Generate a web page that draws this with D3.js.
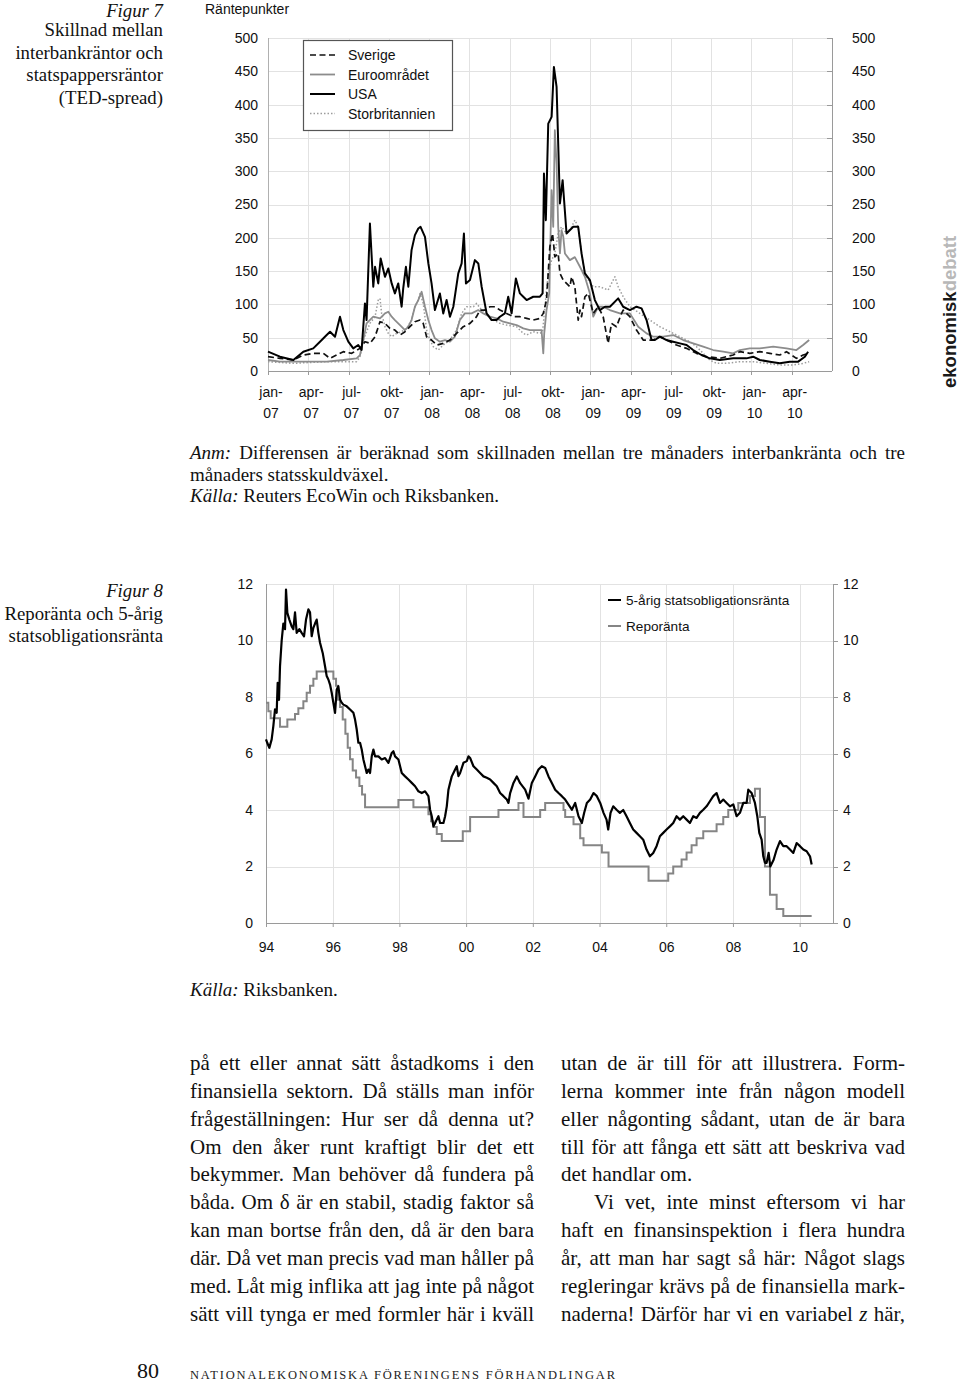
<!DOCTYPE html>
<html lang="sv">
<head>
<meta charset="utf-8">
<title>Figur 7 och 8</title>
<script src="https://cdn.jsdelivr.net/npm/d3@7/dist/d3.min.js"></script>
<style>
    body { margin: 0; background: #fff; }
    svg { display: block; }
</style>
</head>
<body>
<script>
// ---- Figur 7: TED-spread, [månader från jan-07, räntepunkter]
const tedTickMonths = [0, 3, 6, 9, 12, 15, 18, 21, 24, 27, 30, 33, 36, 39];
const tedTickLabels = ['jan-07', 'apr-07', 'jul-07', 'okt-07', 'jan-08', 'apr-08', 'jul-08',
    'okt-08', 'jan-09', 'apr-09', 'jul-09', 'okt-09', 'jan-10', 'apr-10'];
const tedValueTicks = [0, 50, 100, 150, 200, 250, 300, 350, 400, 450, 500];

const sverige = [[0,21.5],[0.89,19],[1.89,16.5],[2.63,24],[3.37,26.5],[4.12,26.5],[4.62,19],[5.11,24],
    [5.61,29],[6.23,26.5],[6.85,34],[7.22,44],[7.59,41.5],[7.97,51.5],[8.34,74],[8.71,71.5],[9.08,64],
    [9.45,61.5],[9.83,54],[10.2,59],[10.57,66.5],[10.94,74],[11.32,76.5],[11.56,71.5],[11.81,51.5],
    [12.18,46.5],[12.56,39],[13.05,41.5],[13.55,46.5],[14.04,56.5],[14.54,66.5],[15.04,71.5],[15.53,81.5],
    [15.78,91.5],[16.15,91.5],[16.53,96.5],[16.9,96.5],[17.27,91.5],[17.77,86.5],[18.26,81.5],[18.76,81.5],
    [19.26,79],[19.75,76.5],[20.25,79],[20.5,86.5],[20.74,106.5],[20.99,186.5],[21.19,206.5],[21.36,171.5],
    [21.61,176.5],[21.74,146.5],[21.99,136.5],[22.23,131.5],[22.48,126.5],[22.61,141.5],[22.85,126.5],
    [23.1,76.5],[23.23,91.5],[23.35,81.5],[23.6,111.5],[23.85,116.5],[24.22,86.5],[24.59,96.5],[24.96,81.5],
    [25.33,41.5],[25.58,71.5],[25.95,66.5],[26.33,86.5],[26.45,91.5],[26.95,81.5],[27.44,61.5],[27.94,46.5],
    [28.69,46.5],[29.18,51.5],[29.68,46.5],[30.42,39],[31.17,34],[31.91,26.5],[32.66,21.5],[33.65,19],
    [34.64,24],[35.14,29],[35.88,26.5],[36.62,29],[37.37,26.5],[38.11,24],[38.61,29],[39.35,19],[39.85,24],
    [40.3,26.5]];

const euroomradet = [[0,16.5],[0.89,14],[1.89,14],[3.13,14],[4.37,14],[5.61,16.5],[6.6,19],[6.85,24],
    [7.1,46.5],[7.34,71.5],[7.84,81.5],[8.34,79],[8.71,86.5],[8.96,89],[9.21,81.5],[9.45,76.5],[9.83,69],
    [10.2,61.5],[10.45,66.5],[10.69,76.5],[10.94,96.5],[11.19,106.5],[11.44,119],[11.69,96.5],[11.94,76.5],
    [12.18,61.5],[12.43,49],[12.8,44],[13.18,46.5],[13.55,44],[13.92,51.5],[14.29,76.5],[14.66,86.5],
    [15.16,86.5],[15.66,91.5],[16.03,86.5],[16.53,81.5],[17.02,79],[17.52,74],[18.01,71.5],[18.51,69],
    [19.01,64],[19.5,61.5],[20,61.5],[20.37,61.5],[20.5,26.5],[20.57,56.5],[20.74,91.5],[20.94,116.5],
    [21.12,271.5],[21.24,216.5],[21.36,361.5],[21.49,311.5],[21.61,216.5],[21.74,176.5],[21.86,211.5],
    [21.99,201.5],[22.11,176.5],[22.48,166.5],[22.85,171],[23.23,156.5],[23.6,141.5],[23.97,116.5],
    [24.22,81.5],[24.59,96.5],[24.96,96.5],[25.46,91.5],[26.2,86.5],[26.95,86.5],[27.57,66.5],[28.19,56.5],
    [28.69,51.5],[29.43,51.5],[30.17,54],[30.92,46.5],[31.66,41.5],[32.41,36.5],[33.15,31.5],[33.9,29],
    [34.64,26.5],[35.14,31.5],[35.88,34],[36.62,34],[37.62,36.5],[38.61,34],[39.35,31.5],[39.85,39],
    [40.3,46.5]];

const usa = [[0,29],[0.89,21.5],[1.89,16.5],[2.63,29],[3.37,34],[3.87,44],[4.37,54],[4.62,59],[4.99,51.5],
    [5.36,81.5],[5.61,61.5],[5.98,44],[6.35,34],[6.72,39],[6.97,31.5],[7.22,101.5],[7.34,76.5],[7.59,221.5],
    [7.84,126.5],[7.97,156.5],[8.21,131.5],[8.39,169],[8.71,141.5],[8.96,154],[9.21,131.5],[9.45,116.5],
    [9.7,131.5],[9.95,96.5],[10.07,124],[10.27,156.5],[10.45,126.5],[10.69,181.5],[10.94,204],[11.19,214],
    [11.36,216.5],[11.69,201.5],[11.94,161.5],[12.18,131.5],[12.43,91.5],[12.8,116.5],[13.05,86.5],
    [13.3,106.5],[13.55,81.5],[13.8,96.5],[14.17,146.5],[14.42,161.5],[14.59,206.5],[14.74,131.5],
    [15.04,136.5],[15.41,166.5],[15.66,161.5],[15.91,126.5],[16.28,86.5],[16.65,76.5],[17.02,76.5],
    [17.27,81.5],[17.64,86.5],[17.89,111.5],[18.14,86.5],[18.46,139],[18.76,116.5],[19.01,111.5],
    [19.26,106.5],[19.75,111.5],[20.25,111.5],[20.45,116.5],[20.55,296.5],[20.69,226.5],[20.87,371.5],
    [21.12,381.5],[21.29,456.5],[21.49,426.5],[21.74,251.5],[21.94,286.5],[22.23,206.5],[22.73,216.5],
    [23.1,216.5],[23.35,176.5],[23.6,146.5],[23.97,136.5],[24.34,106.5],[24.71,91.5],[25.09,96.5],
    [25.46,96.5],[26.08,109],[26.45,96.5],[26.95,91.5],[27.44,96.5],[27.82,94],[28.19,76.5],[28.56,46.5],
    [28.81,46.5],[29.18,51.5],[29.68,46.5],[30.17,44],[30.67,41.5],[31.17,39],[31.66,31.5],[32.28,24],
    [32.9,19],[33.65,16.5],[34.64,19],[35.63,19],[36.13,21.5],[36.62,16.5],[37.37,14],[38.11,11.5],
    [38.86,14],[39.48,14],[39.98,21.5],[40.22,29]];

const storbritannien = [[0,14],[1.89,11.5],[4.37,14],[6.6,14],[6.85,21.5],[7.1,46.5],[7.59,71.5],
    [7.97,81.5],[8.21,106.5],[8.34,109],[8.46,86.5],[8.71,66.5],[8.96,56.5],[9.21,51.5],[9.58,56.5],
    [9.95,59],[10.32,64],[10.69,76.5],[10.94,96.5],[11.19,106.5],[11.32,116.5],[11.56,101.5],[11.81,61.5],
    [12.06,46.5],[12.31,36.5],[12.68,31.5],[13.05,39],[13.55,46.5],[14.04,61.5],[14.42,86.5],[14.79,96.5],
    [15.29,96.5],[15.53,101.5],[15.91,91.5],[16.28,86.5],[16.77,76.5],[17.27,71.5],[17.77,69],[18.51,66.5],
    [19.01,56.5],[19.26,54],[19.75,59],[20.25,56.5],[20.45,59],[20.62,96.5],[20.87,146.5],[21.12,166.5],
    [21.36,176.5],[21.61,206.5],[21.86,216.5],[22.23,206.5],[22.61,216.5],[22.85,226.5],[23.1,216.5],
    [23.35,176.5],[23.6,146.5],[23.85,136.5],[24.22,126.5],[24.71,126.5],[25.33,121.5],[25.58,131.5],
    [25.83,141.5],[26.08,126.5],[26.45,111.5],[26.95,96.5],[27.69,86.5],[28.44,76.5],[29.18,66.5],
    [29.93,59],[30.67,51.5],[31.41,44],[31.91,36.5],[32.41,26.5],[32.9,16.5],[33.4,11.5],[34.14,11.5],
    [35.14,14],[36.13,14],[37.12,11.5],[38.11,9],[39.11,9],[39.85,11.5],[40.3,14]];

// ---- Figur 8: [år, procent]
const rateYearTicks = [1994, 1996, 1998, 2000, 2002, 2004, 2006, 2008, 2010];
const rateYearLabels = ['94', '96', '98', '00', '02', '04', '06', '08', '10'];
const rateValueTicks = [0, 2, 4, 6, 8, 10, 12];

const statsobligation5 = [[1994,6.5],[1994.04,6.37],[1994.1,6.2],[1994.17,6.5],[1994.22,6.97],[1994.27,7.56],
    [1994.32,7.44],[1994.35,8.5],[1994.39,7.9],[1994.42,9.09],[1994.47,10],[1994.52,10.6],[1994.57,10.4],
    [1994.6,11.8],[1994.64,10.98],[1994.7,10.74],[1994.77,10.5],[1994.82,10.4],[1994.87,11],[1994.92,10.27],
    [1995,10.4],[1995.07,10.27],[1995.14,10.15],[1995.2,10.74],[1995.27,11.1],[1995.32,11],[1995.37,10.15],
    [1995.42,10.45],[1995.47,10.6],[1995.52,10.74],[1995.57,10.27],[1995.62,9.92],[1995.7,9.56],
    [1995.77,9.09],[1995.82,8.74],[1995.87,8.62],[1995.92,8.44],[1995.97,8.15],[1996.02,7.79],[1996.07,7.44],
    [1996.12,8.26],[1996.17,8.38],[1996.22,7.91],[1996.27,7.8],[1996.32,7.73],[1996.42,7.67],[1996.52,7.56],
    [1996.62,7.44],[1996.67,7.2],[1996.72,6.85],[1996.77,6.38],[1996.82,6.38],[1996.87,6.14],[1996.92,5.79],
    [1996.97,5.55],[1997.02,5.31],[1997.07,5.43],[1997.12,5.31],[1997.17,5.9],[1997.22,6.14],[1997.27,5.9],
    [1997.37,5.9],[1997.47,5.79],[1997.57,5.84],[1997.67,5.67],[1997.77,6.02],[1997.82,6.08],[1997.87,5.9],
    [1997.97,5.79],[1998.07,5.31],[1998.17,5.19],[1998.27,5.08],[1998.37,4.96],[1998.47,4.84],[1998.57,4.66],
    [1998.67,4.6],[1998.77,4.66],[1998.87,4.49],[1998.92,4.01],[1998.97,3.78],[1999.02,3.42],[1999.07,3.54],
    [1999.12,3.66],[1999.17,3.78],[1999.22,3.54],[1999.32,3.54],[1999.37,3.78],[1999.42,4.13],[1999.47,4.72],
    [1999.52,4.96],[1999.57,5.19],[1999.62,5.31],[1999.67,5.43],[1999.72,5.55],[1999.77,5.2],[1999.82,5.31],
    [1999.92,5.67],[2000.02,5.73],[2000.07,5.9],[2000.12,5.84],[2000.22,5.55],[2000.32,5.43],[2000.42,5.31],
    [2000.52,5.19],[2000.62,5.14],[2000.72,5.08],[2000.82,4.96],[2000.92,4.84],[2001.02,4.6],[2001.12,4.49],
    [2001.22,4.37],[2001.27,4.25],[2001.32,4.6],[2001.42,4.96],[2001.52,5.19],[2001.62,4.95],[2001.77,4.72],
    [2001.87,4.4],[2001.97,4.96],[2002.07,5.19],[2002.17,5.43],[2002.27,5.55],[2002.37,5.49],[2002.47,5.19],
    [2002.57,4.96],[2002.67,4.72],[2002.77,4.6],[2002.87,4.49],[2002.97,4.37],[2003.07,4.19],[2003.17,4.01],
    [2003.27,4.25],[2003.37,3.78],[2003.47,3.54],[2003.54,3.9],[2003.62,4.25],[2003.72,4.37],[2003.82,4.6],
    [2003.92,4.49],[2004.02,4.25],[2004.12,3.9],[2004.21,3.66],[2004.26,3.31],[2004.33,3.9],[2004.41,4.13],
    [2004.51,4.01],[2004.61,3.9],[2004.71,4],[2004.81,3.78],[2004.91,3.54],[2005.01,3.31],[2005.11,3.19],
    [2005.21,3.07],[2005.31,2.95],[2005.41,2.6],[2005.51,2.36],[2005.61,2.48],[2005.71,2.72],[2005.81,3.07],
    [2005.91,3.19],[2006.01,3.31],[2006.11,3.42],[2006.21,3.54],[2006.31,3.78],[2006.41,3.66],[2006.51,3.78],
    [2006.61,3.66],[2006.71,3.54],[2006.81,3.78],[2006.91,3.72],[2007.01,3.9],[2007.11,4.01],[2007.21,4.13],
    [2007.31,4.31],[2007.41,4.49],[2007.51,4.6],[2007.61,4.25],[2007.71,4.37],[2007.81,4.25],[2007.91,4.13],
    [2008.01,4.2],[2008.11,3.78],[2008.21,3.9],[2008.31,4.25],[2008.41,4.25],[2008.46,4.72],[2008.56,4.6],
    [2008.66,4.25],[2008.73,3.78],[2008.79,3.19],[2008.86,2.95],[2008.91,2.36],[2008.96,2.13],[2009.01,2.13],
    [2009.07,2.48],[2009.12,2],[2009.22,2.24],[2009.31,2.6],[2009.41,2.9],[2009.51,2.72],[2009.61,2.72],
    [2009.71,2.6],[2009.81,2.48],[2009.91,2.83],[2010.01,2.72],[2010.11,2.6],[2010.21,2.54],[2010.31,2.36],
    [2010.36,2.07]];

const reporanta = [[1994,7.8],[1994.07,7.5],[1994.14,7.25],[1994.42,6.95],[1994.64,7.2],[1994.87,7.4],
    [1994.97,7.6],[1995.12,7.85],[1995.22,8.15],[1995.32,8.4],[1995.42,8.65],[1995.52,8.9],[1996.02,8.65],
    [1996.1,8.4],[1996.15,7.9],[1996.22,7.65],[1996.3,7.2],[1996.38,6.7],[1996.45,6.2],[1996.52,5.8],
    [1996.6,5.4],[1996.7,5.15],[1996.8,4.85],[1996.88,4.55],[1996.97,4.1],[1997.97,4.35],[1998.42,4.1],
    [1998.87,3.85],[1998.95,3.6],[1999.02,3.4],[1999.12,3.15],[1999.27,2.9],[1999.9,3.25],[2000.12,3.75],
    [2000.97,4],[2001.57,4.25],[2001.72,3.75],[2002.22,4],[2002.37,4.25],[2002.92,4],[2002.97,3.75],
    [2003.22,3.5],[2003.42,3],[2003.52,2.75],[2004.07,2.5],[2004.27,2],[2005.47,1.5],[2006.06,1.75],
    [2006.21,2],[2006.46,2.25],[2006.61,2.5],[2006.76,2.75],[2006.91,3],[2007.11,3.25],[2007.51,3.5],
    [2007.71,3.75],[2007.86,4],[2008.16,4.25],[2008.51,4.5],[2008.66,4.75],[2008.81,3.75],[2008.96,2],
    [2009.11,1],[2009.31,0.5],[2009.51,0.25],[2010.36,0.25]];

// ---- texter
const fig7Caption = ['_Figur 7_', 'Skillnad mellan', 'interbankräntor och', 'statspappersräntor', '(TED-spread)'];
const fig8Caption = ['_Figur 8_', 'Reporänta och 5-årig', 'statsobligationsränta'];
const anmLines = [
    {text: '_Anm:_ Differensen är beräknad som skillnaden mellan tre månaders interbankränta och tre', justify: true},
    {text: 'månaders statsskuldväxel.', justify: false},
    {text: '_Källa:_ Reuters EcoWin och Riksbanken.', justify: false}
];
const leftColumn = [
    'på ett eller annat sätt åstadkoms i den',
    'finansiella sektorn. Då ställs man inför',
    'frågeställningen: Hur ser då denna ut?',
    'Om den åker runt kraftigt blir det ett',
    'bekymmer. Man behöver då fundera på',
    'båda. Om δ är en stabil, stadig faktor så',
    'kan man bortse från den, då är den bara',
    'där. Då vet man precis vad man håller på',
    'med. Låt mig inflika att jag inte på något',
    'sätt vill tynga er med formler här i kväll'
];
const rightColumn = [
    'utan de är till för att illustrera. Form-',
    'lerna kommer inte från någon modell',
    'eller någonting sådant, utan de är bara',
    'till för att fånga ett sätt att beskriva vad',
    'det handlar om.',
    'Vi vet, inte minst eftersom vi har',
    'haft en finansinspektion i flera hundra',
    'år, att man har sagt så här: Något slags',
    'regleringar krävs på de finansiella mark-',
    'naderna! Därför har vi en variabel _z_ här,'
];

const sans = "'Liberation Sans', Arial, sans-serif";
const serif = "'Liberation Serif', 'Times New Roman', serif";

const svg = d3.select('body').append('svg').attr('width', 960).attr('height', 1383);

// _kursiv_ -> tspan
const addRich = (textSel, str) => {
    str.split(/(_[^_]+_)/).filter((s) => s.length).forEach((part) => {
        const italic = part.startsWith('_') && part.endsWith('_');
        textSel.append('tspan')
            .attr('font-style', italic ? 'italic' : null)
            .text(italic ? part.slice(1, -1) : part);
    });
    return textSel;
};

const justify = (textSel, width) => {
    const node = textSel.node();
    const natural = node.getComputedTextLength();
    const spaces = (textSel.text().match(/ /g) || []).length;
    if (!spaces) return;
    textSel.attr('word-spacing', (width - natural) / spaces);
    if (Math.abs(node.getComputedTextLength() - width) > 2) {
        textSel.attr('word-spacing', null).attr('textLength', width).attr('lengthAdjust', 'spacing');
    }
};

const drawCaption = (lines, top) => {
    const g = svg.append('g');
    lines.forEach((line, i) => {
        // första raden får inte hamna ovanför sidkanten
        const yPos = Math.max(top + i * 22.6, 17);
        addRich(g.append('text')
            .attr('x', 163).attr('y', yPos)
            .attr('text-anchor', 'end')
            .attr('font-family', serif).attr('font-size', 18.8).attr('fill', '#111'), line);
    });
};

const drawTedChart = () => {
    const x = d3.scaleLinear().domain([0, 42]).range([268, 832]);
    const y = d3.scaleLinear().domain([0, 500]).range([371, 38]);
    const g = svg.append('g').attr('class', 'ted');
    const px = (v) => Math.round(v) + 0.5;

    g.selectAll('.hgrid').data(tedValueTicks).enter().append('line').attr('class', 'hgrid')
        .attr('x1', x(0)).attr('x2', x(42))
        .attr('y1', (d) => px(y(d))).attr('y2', (d) => px(y(d)))
        .attr('stroke', '#e2e2e2');
    g.selectAll('.vgrid').data(tedTickMonths).enter().append('line').attr('class', 'vgrid')
        .attr('x1', (d) => px(x(d))).attr('x2', (d) => px(x(d)))
        .attr('y1', y(500)).attr('y2', y(0))
        .attr('stroke', '#e2e2e2');

    // ram och axlar
    g.append('line').attr('x1', px(x(42))).attr('x2', px(x(42))).attr('y1', y(500)).attr('y2', y(0))
        .attr('stroke', '#9a9a9a');
    g.append('line').attr('x1', px(x(0))).attr('x2', px(x(0))).attr('y1', y(500)).attr('y2', y(0))
        .attr('stroke', '#b0b0b0');
    g.append('line').attr('x1', x(0)).attr('x2', x(42)).attr('y1', px(y(0))).attr('y2', px(y(0)))
        .attr('stroke', '#9a9a9a');
    g.selectAll('.rtick').data(tedValueTicks).enter().append('line').attr('class', 'rtick')
        .attr('x1', x(42) - 5).attr('x2', x(42))
        .attr('y1', (d) => px(y(d))).attr('y2', (d) => px(y(d)))
        .attr('stroke', '#9a9a9a');
    g.selectAll('.btick').data(tedTickMonths).enter().append('line').attr('class', 'btick')
        .attr('x1', (d) => px(x(d))).attr('x2', (d) => px(x(d)))
        .attr('y1', y(0)).attr('y2', y(0) + 4)
        .attr('stroke', '#9a9a9a');

    const styleAxis = (sel) => {
        sel.select('.domain').remove();
        sel.selectAll('text').attr('font-family', sans).attr('font-size', 14).attr('fill', '#111');
    };
    g.append('g').attr('transform', `translate(${x(0)},0)`)
        .call(d3.axisLeft(y).tickValues(tedValueTicks).tickSize(0).tickPadding(10)).call(styleAxis);
    g.append('g').attr('transform', `translate(${x(42)},0)`)
        .call(d3.axisRight(y).tickValues(tedValueTicks).tickSize(0).tickPadding(20)).call(styleAxis);

    const labels = g.selectAll('.xlab').data(tedTickMonths).enter().append('text').attr('class', 'xlab')
        .attr('x', (d) => x(d) + 3)
        .attr('text-anchor', 'middle')
        .attr('font-family', sans).attr('font-size', 14).attr('fill', '#111');
    labels.append('tspan').attr('x', (d) => x(d) + 3).attr('y', 397)
        .text((d, i) => tedTickLabels[i].split('-')[0] + '-');
    labels.append('tspan').attr('x', (d) => x(d) + 3).attr('y', 418)
        .text((d, i) => tedTickLabels[i].split('-')[1]);

    g.append('text').attr('x', 205).attr('y', 14)
        .attr('font-family', sans).attr('font-size', 14).attr('fill', '#111')
        .text('Räntepunkter');

    const series = [
        {name: 'Sverige', values: sverige, color: '#111', width: 1.7, dash: '6,3.5', order: 2},
        {name: 'Euroområdet', values: euroomradet, color: '#8c8c8c', width: 1.8, dash: null, order: 1},
        {name: 'USA', values: usa, color: '#000', width: 2, dash: null, order: 3},
        {name: 'Storbritannien', values: storbritannien, color: '#9c9c9c', width: 1.5, dash: '1.5,2', order: 0}
    ];
    const line = d3.line().x((d) => x(d[0])).y((d) => y(d[1]));
    g.selectAll('.series').data(series.slice().sort((a, b) => a.order - b.order)).enter()
        .append('path').attr('class', 'series')
        .attr('d', (d) => line(d.values))
        .attr('fill', 'none')
        .attr('stroke', (d) => d.color)
        .attr('stroke-width', (d) => d.width)
        .attr('stroke-dasharray', (d) => d.dash)
        .attr('stroke-linejoin', 'round');

    // legend
    const legend = g.append('g');
    legend.append('rect').attr('x', 303.5).attr('y', 40.5).attr('width', 149).attr('height', 90)
        .attr('fill', '#fff').attr('stroke', '#555').attr('stroke-width', 1.2);
    const items = legend.selectAll('.item').data(series).enter().append('g').attr('class', 'item')
        .attr('transform', (d, i) => `translate(0,${55 + i * 19.5})`);
    items.append('line').attr('x1', 310).attr('x2', 335).attr('y1', 0).attr('y2', 0)
        .attr('stroke', (d) => d.color)
        .attr('stroke-width', (d) => d.width)
        .attr('stroke-dasharray', (d) => d.dash);
    items.append('text').attr('x', 348).attr('y', 5)
        .attr('font-family', sans).attr('font-size', 14).attr('fill', '#111')
        .text((d) => d.name);

    // varumärke, vertikalt
    const brand = svg.append('text')
        .attr('transform', 'translate(956,388) rotate(-90)')
        .attr('font-family', sans).attr('font-size', 18.5).attr('font-weight', 'bold');
    brand.append('tspan').attr('fill', '#1a1a1a').text('ekonomisk');
    brand.append('tspan').attr('fill', '#b8b8b8').text('debatt');
};

const drawRateChart = () => {
    const x = d3.scaleLinear().domain([1994, 2011]).range([266, 833]);
    const y = d3.scaleLinear().domain([0, 12]).range([923, 584]);
    const g = svg.append('g').attr('class', 'rates');
    const px = (v) => Math.round(v) + 0.5;

    g.selectAll('.hgrid').data(rateValueTicks).enter().append('line').attr('class', 'hgrid')
        .attr('x1', x(1994)).attr('x2', x(2011))
        .attr('y1', (d) => px(y(d))).attr('y2', (d) => px(y(d)))
        .attr('stroke', '#e2e2e2');
    g.selectAll('.vgrid').data(rateYearTicks).enter().append('line').attr('class', 'vgrid')
        .attr('x1', (d) => px(x(d))).attr('x2', (d) => px(x(d)))
        .attr('y1', y(12)).attr('y2', y(0))
        .attr('stroke', '#e2e2e2');

    g.append('line').attr('x1', px(x(1994))).attr('x2', px(x(1994))).attr('y1', y(12)).attr('y2', y(0))
        .attr('stroke', '#9a9a9a');
    g.append('line').attr('x1', px(x(2011))).attr('x2', px(x(2011))).attr('y1', y(12)).attr('y2', y(0))
        .attr('stroke', '#9a9a9a');
    g.append('line').attr('x1', x(1994)).attr('x2', x(2011)).attr('y1', px(y(0))).attr('y2', px(y(0)))
        .attr('stroke', '#9a9a9a');
    g.selectAll('.rtick').data(rateValueTicks).enter().append('line').attr('class', 'rtick')
        .attr('x1', x(2011)).attr('x2', x(2011) + 5)
        .attr('y1', (d) => px(y(d))).attr('y2', (d) => px(y(d)))
        .attr('stroke', '#9a9a9a');

    const styleAxis = (sel) => {
        sel.select('.domain').remove();
        sel.selectAll('line').attr('stroke', '#9a9a9a');
        sel.selectAll('text').attr('font-family', sans).attr('font-size', 14).attr('fill', '#111');
    };
    g.append('g').attr('transform', `translate(${x(1994)},0)`)
        .call(d3.axisLeft(y).tickValues(rateValueTicks).tickSize(0).tickPadding(13)).call(styleAxis);
    g.append('g').attr('transform', `translate(${x(2011)},0)`)
        .call(d3.axisRight(y).tickValues(rateValueTicks).tickSize(0).tickPadding(10)).call(styleAxis);
    g.append('g').attr('transform', `translate(0,${y(0)})`)
        .call(d3.axisBottom(x).tickValues(rateYearTicks).tickSize(4).tickPadding(15)
            .tickFormat((d, i) => rateYearLabels[i]))
        .call(styleAxis);

    const repoLine = d3.line().curve(d3.curveStepAfter).x((d) => x(d[0])).y((d) => y(d[1]));
    const bondLine = d3.line().x((d) => x(d[0])).y((d) => y(d[1]));
    g.append('path').attr('d', repoLine(reporanta))
        .attr('fill', 'none').attr('stroke', '#858585').attr('stroke-width', 2);
    g.append('path').attr('d', bondLine(statsobligation5))
        .attr('fill', 'none').attr('stroke', '#000').attr('stroke-width', 2.2)
        .attr('stroke-linejoin', 'round');

    const legendItems = [
        {name: '5-årig statsobligationsränta', color: '#000'},
        {name: 'Reporänta', color: '#858585'}
    ];
    const items = g.selectAll('.item').data(legendItems).enter().append('g').attr('class', 'item')
        .attr('transform', (d, i) => `translate(0,${600 + i * 26})`);
    items.append('line').attr('x1', 608).attr('x2', 621).attr('y1', 0).attr('y2', 0)
        .attr('stroke', (d) => d.color).attr('stroke-width', 2);
    items.append('text').attr('x', 626).attr('y', 5)
        .attr('font-family', sans).attr('font-size', 13.6).attr('fill', '#111')
        .text((d) => d.name);
};

const drawNotes = () => {
    const g = svg.append('g');
    anmLines.forEach((line, i) => {
        const t = addRich(g.append('text').attr('x', 190).attr('y', 459 + i * 21.5)
            .attr('font-family', serif).attr('font-size', 19).attr('fill', '#111'), line.text);
        if (line.justify) justify(t, 715);
    });
    addRich(g.append('text').attr('x', 190).attr('y', 996)
        .attr('font-family', serif).attr('font-size', 19).attr('fill', '#111'), '_Källa:_ Riksbanken.');
};

const drawBody = () => {
    const g = svg.append('g');
    const column = (lines, left, width, notJustified, indented) => {
        lines.forEach((str, i) => {
            const x0 = indented.includes(i) ? left + 33 : left;
            const t = addRich(g.append('text').attr('x', x0).attr('y', 1070 + i * 27.85)
                .attr('font-family', serif).attr('font-size', 21).attr('fill', '#111'), str);
            if (!notJustified.includes(i)) justify(t, width - (x0 - left));
        });
    };
    column(leftColumn, 190, 344, [], []);
    column(rightColumn, 561, 344, [4], [5]);

    svg.append('text').attr('x', 137).attr('y', 1378)
        .attr('font-family', serif).attr('font-size', 22).attr('fill', '#111').text('80');
    svg.append('text').attr('x', 190).attr('y', 1378.5)
        .attr('font-family', serif).attr('font-size', 12.5).attr('fill', '#222')
        .attr('textLength', 425).attr('lengthAdjust', 'spacing')
        .text('NATIONALEKONOMISKA FÖRENINGENS FÖRHANDLINGAR');
};

drawCaption(fig7Caption, 13.4);
drawCaption(fig8Caption, 597);
drawTedChart();
drawRateChart();
drawNotes();
drawBody();
</script>
</body>
</html>
